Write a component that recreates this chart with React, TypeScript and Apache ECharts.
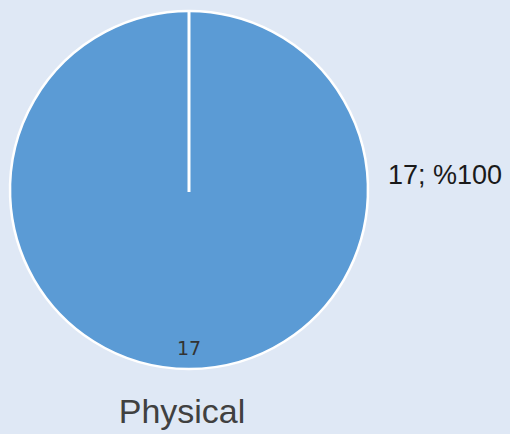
import React, { useEffect, useRef } from "react";
import * as echarts from "echarts";

const categories = ["Physical"];
const values = [17];
const title = "Physical";

export default function App() {
  const ref = useRef<HTMLDivElement>(null);
  useEffect(() => {
    if (!ref.current) return;
    const chart = echarts.init(ref.current, null, { renderer: "svg" });
    const total = values.reduce((a, b) => a + b, 0);
    const cx = 189;
    const cy = 190;
    const r = 179;
    const data = categories.map((c, i) => ({ name: c, value: values[i] }));
    chart.setOption({
      animation: false,
      backgroundColor: "#dfe8f5",
      series: [
        {
          type: "pie",
          center: [cx, cy],
          radius: [0, r],
          startAngle: 90,
          clockwise: true,
          data,
          silent: true,
          color: ["#5b9bd5"],
          itemStyle: { borderColor: "#ffffff", borderWidth: 2.5 },
          label: { show: false },
          labelLine: { show: false },
        },
        {
          type: "pie",
          center: [cx, cy],
          radius: [r - 48, r],
          startAngle: 90,
          data,
          silent: true,
          itemStyle: { color: "transparent" },
          label: {
            show: true,
            position: "inside",
            formatter: "{c}",
            fontFamily: "DejaVu Sans",
            fontSize: 19,
            color: "#333333",
          },
          labelLine: { show: false },
        },
      ],
      graphic: [
        {
          type: "line",
          z: 100,
          shape: { x1: cx, y1: cy - r, x2: cx, y2: cy + 2 },
          style: { stroke: "#ffffff", lineWidth: 3 },
          silent: true,
        },
        {
          type: "text",
          z: 100,
          x: 388,
          y: 188,
          style: {
            text: `${values[0]}; %${Math.round((values[0] / total) * 100)}`,
            fontFamily: "Liberation Sans",
            fontSize: 27,
            fill: "#1a1a1a",
            textAlign: "left",
            textVerticalAlign: "bottom",
          },
        },
        {
          type: "text",
          z: 100,
          x: 182,
          y: 428,
          style: {
            text: title,
            fontFamily: "Liberation Sans",
            fontSize: 34,
            fill: "#404040",
            textAlign: "center",
            textVerticalAlign: "bottom",
          },
        },
      ],
    });
    return () => chart.dispose();
  }, []);
  return (
    <div
      ref={ref}
      style={{ position: "fixed", left: 0, top: 0, width: 510, height: 434 }}
    />
  );
}
